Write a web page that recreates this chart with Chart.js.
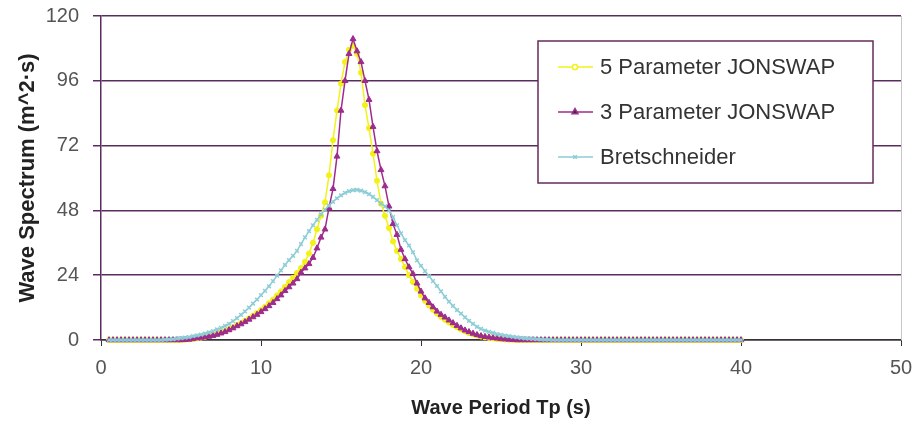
<!DOCTYPE html>
<html>
<head>
<meta charset="utf-8">
<title>Wave Spectrum</title>
<script src="https://cdn.jsdelivr.net/npm/chart.js@4.4.1/dist/chart.umd.min.js"></script>
<style>
    body { margin: 0; background: #fff; }
    #wrap { width: 917px; height: 426px; }
</style>
</head>
<body>
<div id="wrap"><canvas id="waveChart" width="917" height="426"></canvas></div>
<script>
// ================= DATA =================

// wave period Tp (s), one row per whole second
const periods = [
    0.5, 0.75,
    1, 1.25, 1.5, 1.75,   2, 2.25, 2.5, 2.75,   3, 3.25, 3.5, 3.75,   4, 4.25, 4.5, 4.75,
    5, 5.25, 5.5, 5.75,   6, 6.25, 6.5, 6.75,   7, 7.25, 7.5, 7.75,   8, 8.25, 8.5, 8.75,
    9, 9.25, 9.5, 9.75,   10, 10.25, 10.5, 10.75,   11, 11.25, 11.5, 11.75,   12, 12.25, 12.5, 12.75,
    13, 13.25, 13.5, 13.75,   14, 14.25, 14.5, 14.75,   15, 15.25, 15.5, 15.75,   16, 16.25, 16.5, 16.75,
    17, 17.25, 17.5, 17.75,   18, 18.25, 18.5, 18.75,   19, 19.25, 19.5, 19.75,   20, 20.25, 20.5, 20.75,
    21, 21.25, 21.5, 21.75,   22, 22.25, 22.5, 22.75,   23, 23.25, 23.5, 23.75,   24, 24.25, 24.5, 24.75,
    25, 25.25, 25.5, 25.75,   26, 26.25, 26.5, 26.75,   27, 27.25, 27.5, 27.75,   28, 28.25, 28.5, 28.75,
    29, 29.25, 29.5, 29.75,   30, 30.25, 30.5, 30.75,   31, 31.25, 31.5, 31.75,   32, 32.25, 32.5, 32.75,
    33, 33.25, 33.5, 33.75,   34, 34.25, 34.5, 34.75,   35, 35.25, 35.5, 35.75,   36, 36.25, 36.5, 36.75,
    37, 37.25, 37.5, 37.75,   38, 38.25, 38.5, 38.75,   39, 39.25, 39.5, 39.75,
    40
];

const jonswap5 = [
    0, 0,
    0, 0, 0, 0,   0, 0, 0, 0,   0, 0, 0, 0,   0, 0, 0, 0,
    0, 0.1, 0.2, 0.4,   0.6, 0.9, 1.2, 1.5,   1.9, 2.3, 2.8, 3.4,   4.0, 4.7, 5.5, 6.3,
    7.1, 8.0, 9.0, 10.0,   11.1, 12.3, 13.6, 15.0,   16.5, 18.0, 19.7, 21.4,   23.0, 24.8, 26.6, 29.0,
    32.0, 36.0, 41.0, 46.0,   51.0, 61.0, 74.0, 85.0,   95.0, 103.0, 107.5, 109.0,   106.0, 99.0, 87.0, 78.5,
    69.0, 59.0, 50.5, 46.0,   41.5, 36.5, 33.0, 30.0,   27.0, 24.0, 21.5, 19.0,   16.5, 14.5, 12.8, 11.2,
    9.8, 8.6, 7.5, 6.5,   5.6, 4.7, 3.9, 3.2,   2.6, 2.1, 1.7, 1.3,   1.0, 0.8, 0.6, 0.4,
    0.3, 0.2, 0.1, 0.1,   0, 0, 0, 0,   0, 0, 0, 0,   0, 0, 0, 0,
    0, 0, 0, 0,   0, 0, 0, 0,   0, 0, 0, 0,   0, 0, 0, 0,
    0, 0, 0, 0,   0, 0, 0, 0,   0, 0, 0, 0,   0, 0, 0, 0,
    0, 0, 0, 0,   0, 0, 0, 0,   0, 0, 0, 0,
    0
];

const jonswap3 = [
    0, 0,
    0, 0, 0, 0,   0, 0, 0, 0,   0, 0, 0, 0,   0, 0, 0, 0,
    0, 0.1, 0.2, 0.4,   0.7, 0.9, 1.1, 1.3,   1.6, 2.0, 2.5, 3.0,   3.7, 4.4, 5.2, 5.9,
    6.7, 7.6, 8.5, 9.4,   10.4, 11.5, 12.6, 13.8,   15.2, 16.6, 18.2, 19.6,   21.0, 22.6, 25.0, 26.6,
    28.2, 30.5, 34.0, 38.0,   41.0, 49.0, 56.0, 68.0,   85.0, 96.0, 106.0, 111.5,   107.0, 103.0, 96.0, 89.0,
    79.0, 70.0, 63.0, 57.0,   49.5, 43.0, 39.0, 33.5,   30.0, 27.0, 24.5, 21.0,   18.0, 15.5, 13.8, 12.2,
    10.6, 9.4, 8.4, 7.3,   6.3, 5.3, 4.4, 3.6,   3.0, 2.4, 1.9, 1.5,   1.2, 1.0, 0.8, 0.6,
    0.4, 0.3, 0.2, 0.1,   0, 0, 0, 0,   0, 0, 0, 0,   0, 0, 0, 0,
    0, 0, 0, 0,   0, 0, 0, 0,   0, 0, 0, 0,   0, 0, 0, 0,
    0, 0, 0, 0,   0, 0, 0, 0,   0, 0, 0, 0,   0, 0, 0, 0,
    0, 0, 0, 0,   0, 0, 0, 0,   0, 0, 0, 0,
    0
];

const bretschneider = [
    0, 0,
    0, 0, 0, 0,   0, 0, 0, 0,   0, 0, 0, 0,   0.1, 0.2, 0.3, 0.5,
    0.7, 0.9, 1.1, 1.4,   1.7, 2.0, 2.4, 2.8,   3.3, 3.9, 4.5, 5.2,   6.0, 7.0, 8.1, 9.3,
    10.6, 12.0, 13.5, 15.0,   16.6, 18.2, 19.9, 21.8,   23.8, 25.8, 27.8, 29.6,   31.2, 33.0, 35.5, 38.0,
    40.3, 42.5, 44.5, 46.5,   48.3, 49.8, 51.2, 52.5,   53.6, 54.5, 55.1, 55.5,   55.6, 55.3, 54.8, 54.0,
    53.0, 51.8, 50.5, 49.5,   48.0, 45.5, 42.5, 39.5,   37.0, 35.0, 32.5, 29.5,   27.5, 25.5, 23.7, 21.8,
    20.0, 18.0, 16.0, 14.2,   12.6, 11.1, 9.8, 8.4,   7.1, 6.0, 4.9, 4.1,   3.5, 3.0, 2.6, 2.2,
    1.9, 1.6, 1.4, 1.2,   1.0, 0.8, 0.6, 0.5,   0.4, 0.3, 0.2, 0.1,   0.1, 0, 0, 0,
    0, 0, 0, 0,   0, 0, 0, 0,   0, 0, 0, 0,   0, 0, 0, 0,
    0, 0, 0, 0,   0, 0, 0, 0,   0, 0, 0, 0,   0, 0, 0, 0,
    0, 0, 0, 0,   0, 0, 0, 0,   0, 0, 0, 0,
    0
];

const seriesNames = ["5 Parameter JONSWAP", "3 Parameter JONSWAP", "Bretschneider"];

const yTicks = [0, 24, 48, 72, 96, 120];
const xTicks = [0, 10, 20, 30, 40, 50];

// ================= CHART =================

document.addEventListener("DOMContentLoaded", function () {

    const FONT = "'Liberation Sans', Arial, sans-serif";
    const GRID = "#5a2c5e";

    function toPoints(values) {
        return periods.map((p, i) => ({ x: p, y: values[i] }));
    }

    // legend box drawn inside the plot, like the spreadsheet original
    const boxLegend = {
        id: "boxLegend",
        afterDraw(chart) {
            let ctx = chart.ctx;
            let area = chart.chartArea;

            // light frame on the right side of the plot
            ctx.save();
            ctx.strokeStyle = "#c8c8c8";
            ctx.lineWidth = 1;
            ctx.beginPath();
            ctx.moveTo(area.right + 0.5, area.top);
            ctx.lineTo(area.right + 0.5, area.bottom);
            ctx.stroke();

            let left = 538, top = 41, w = 335, h = 142;
            ctx.fillStyle = "#fff";
            ctx.fillRect(left, top, w, h);
            ctx.strokeStyle = "#6a2a5a";
            ctx.lineWidth = 1.5;
            ctx.strokeRect(left, top, w, h);

            ctx.font = "22px " + FONT;
            ctx.textBaseline = "middle";
            chart.data.datasets.forEach((ds, i) => {
                let y = top + 26 + i * 45;
                ctx.strokeStyle = ds.borderColor;
                ctx.lineWidth = 1.5;
                ctx.beginPath();
                ctx.moveTo(left + 20, y);
                ctx.lineTo(left + 55, y);
                ctx.stroke();
                Chart.helpers.drawPoint(ctx, {
                    pointStyle: ds.pointStyle,
                    radius: ds.pointRadius,
                    borderWidth: ds.pointBorderWidth || 1,
                    rotation: 0
                }, left + 37, y);
                ctx.fillStyle = "#333";
                ctx.fillText(ds.label, left + 62, y + 1);
            });
            ctx.restore();
        }
    };

    new Chart(document.getElementById("waveChart"), {
        type: "line",
        data: {
            datasets: [
                {
                    label: seriesNames[0],
                    data: toPoints(jonswap5),
                    borderColor: "#f2f21a",
                    backgroundColor: "#f2f21a",
                    borderWidth: 1.5,
                    pointStyle: "circle",
                    pointRadius: 2.6,
                    pointBorderWidth: 1,
                    order: 3
                },
                {
                    label: seriesNames[1],
                    data: toPoints(jonswap3),
                    borderColor: "#9e2b8e",
                    backgroundColor: "#9e2b8e",
                    borderWidth: 1.5,
                    pointStyle: "triangle",
                    pointRadius: 3.4,
                    pointBorderWidth: 1,
                    order: 2
                },
                {
                    label: seriesNames[2],
                    data: toPoints(bretschneider),
                    borderColor: "#8ccdd6",
                    backgroundColor: "#8ccdd6",
                    borderWidth: 1.5,
                    pointStyle: "crossRot",
                    pointRadius: 2.6,
                    pointBorderWidth: 1.5,
                    order: 1
                }
            ]
        },
        options: {
            responsive: false,
            animation: false,
            clip: false,
            layout: { padding: { left: 0, top: 16, right: 16, bottom: 0 } },
            plugins: {
                legend: { display: false },
                tooltip: { enabled: false }
            },
            scales: {
                x: {
                    type: "linear",
                    min: xTicks[0],
                    max: xTicks[xTicks.length - 1],
                    afterBuildTicks: (scale) => { scale.ticks = xTicks.map(v => ({ value: v })); },
                    afterFit: (scale) => {
                        scale.height = 86;
                        scale.paddingLeft = 0;
                        scale.paddingRight = 0;
                    },
                    grid: { drawOnChartArea: false, color: "#333", tickLength: 6, lineWidth: 1 },
                    border: { color: "#333", width: 1.5 },
                    ticks: { color: "#555", padding: 10, font: { family: FONT, size: 20 } },
                    title: {
                        display: true,
                        text: "Wave Period Tp (s)",
                        color: "#222",
                        padding: { top: 0, bottom: 6 },
                        font: { family: FONT, size: 20, weight: "bold" }
                    }
                },
                y: {
                    min: yTicks[0],
                    max: yTicks[yTicks.length - 1],
                    afterBuildTicks: (scale) => { scale.ticks = yTicks.map(v => ({ value: v })); },
                    afterFit: (scale) => {
                        scale.width = 101;
                        scale.paddingTop = 0;
                        scale.paddingBottom = 0;
                    },
                    grid: { color: GRID, lineWidth: 1.5, tickLength: 8 },
                    border: { color: GRID, width: 1.5 },
                    ticks: { color: "#555", padding: 14, font: { family: FONT, size: 20 } },
                    title: {
                        display: true,
                        text: "Wave Spectrum (m^2·s)",
                        color: "#222",
                        padding: { top: 15, bottom: 0 },
                        font: { family: FONT, size: 22, weight: "bold" }
                    }
                }
            }
        },
        plugins: [boxLegend]
    });
});
</script>
</body>
</html>
